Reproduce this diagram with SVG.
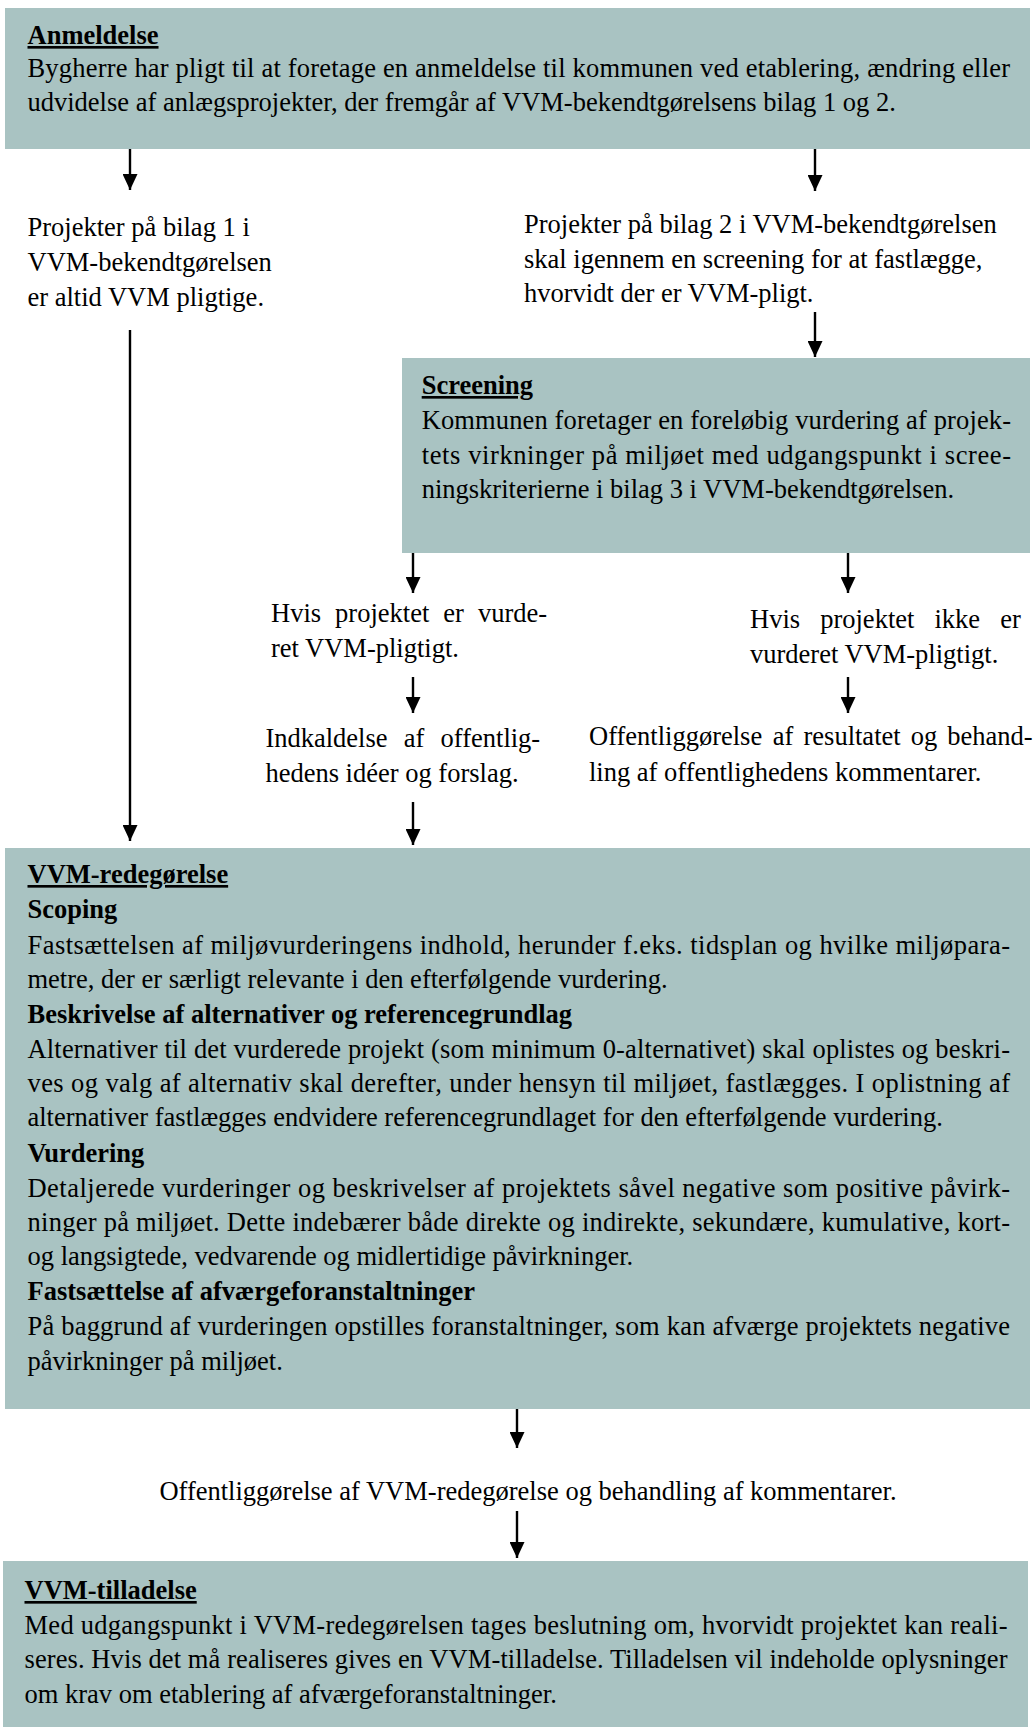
<svg xmlns="http://www.w3.org/2000/svg" width="1035" height="1727" viewBox="0 0 1035 1727">
  <defs>
    <marker id="ah" viewBox="0 0 16 15" refX="16" refY="7.5" markerWidth="16" markerHeight="15" markerUnits="userSpaceOnUse" orient="auto">
      <path d="M0,0 L16,7.5 L0,15 z" fill="#000"/>
    </marker>
    <style>
      .box { fill: #a9c3c2; }
      text { font-family: "Liberation Serif", "Times New Roman", serif; font-size: 26.5px; fill: #000; }
      .h { font-weight: bold; text-decoration: underline; text-decoration-thickness: 2.5px; }
      .b { font-weight: bold; }
      .c { text-anchor: middle; }
      .arr { stroke: #000; stroke-width: 2.4; fill: none; marker-end: url(#ah); }
    </style>
  </defs>
  <rect width="1035" height="1727" fill="#fff"/>

  <!-- Anmeldelse -->
  <g id="anmeldelse">
    <rect class="box" x="5" y="8" width="1025" height="141"/>
    <text class="h" x="27.5" y="44">Anmeldelse</text>
    <text x="27.5" y="77" textLength="982.5" lengthAdjust="spacing">Bygherre har pligt til at foretage en anmeldelse til kommunen ved etablering, ændring eller</text>
    <text x="27.5" y="111">udvidelse af anlægsprojekter, der fremgår af VVM-bekendtgørelsens bilag 1 og 2.</text>
  </g>

  <!-- Bilag 1 projects -->
  <g id="bilag1">
    <text x="27.5" y="236">Projekter på bilag 1 i</text>
    <text x="27.5" y="271">VVM-bekendtgørelsen</text>
    <text x="27.5" y="306">er altid VVM pligtige.</text>
  </g>

  <!-- Bilag 2 projects -->
  <g id="bilag2">
    <text x="524" y="233">Projekter på bilag 2 i VVM-bekendtgørelsen</text>
    <text x="524" y="268">skal igennem en screening for at fastlægge,</text>
    <text x="524" y="302">hvorvidt der er VVM-pligt.</text>
  </g>

  <!-- Screening -->
  <g id="screening">
    <rect class="box" x="402" y="358" width="628" height="195"/>
    <text class="h" x="421.7" y="394">Screening</text>
    <text x="421.7" y="429" textLength="589.3" lengthAdjust="spacing">Kommunen foretager en foreløbig vurdering af projek-</text>
    <text x="421.7" y="463.5" textLength="589.3" lengthAdjust="spacing">tets virkninger på miljøet med udgangspunkt i scree-</text>
    <text x="421.7" y="498">ningskriterierne i bilag 3 i VVM-bekendtgørelsen.</text>
  </g>

  <!-- Screening outcome: VVM duty -->
  <g id="pligtig">
    <text y="622"><tspan x="271">Hvis</tspan><tspan x="335.1">projektet</tspan><tspan x="443.3">er</tspan><tspan x="477.9">vurde-</tspan></text>
    <text x="271" y="657">ret VVM-pligtigt.</text>
  </g>

  <!-- Screening outcome: no VVM duty -->
  <g id="ikke-pligtig">
    <text y="628"><tspan x="750">Hvis</tspan><tspan x="820.2">projektet</tspan><tspan x="934.5">ikke</tspan><tspan x="1000.2">er</tspan></text>
    <text x="750" y="663">vurderet VVM-pligtigt.</text>
  </g>

  <!-- Public call for ideas -->
  <g id="indkaldelse">
    <text y="747"><tspan x="265.4">Indkaldelse</tspan><tspan x="403.8">af</tspan><tspan x="440.6">offentlig-</tspan></text>
    <text x="265.4" y="782">hedens idéer og forslag.</text>
  </g>

  <!-- Publication of screening result -->
  <g id="offentliggoerelse-resultat">
    <text y="745"><tspan x="589">Offentliggørelse</tspan><tspan x="772.8">af</tspan><tspan x="803.5">resultatet</tspan><tspan x="910.7">og</tspan><tspan x="947.3">behand-</tspan></text>
    <text x="589" y="781">ling af offentlighedens kommentarer.</text>
  </g>

  <!-- VVM-redegørelse -->
  <g id="redegoerelse">
    <rect class="box" x="5" y="848" width="1025" height="561"/>
    <text class="h" x="27.5" y="883">VVM-redegørelse</text>
    <text class="b" x="27.5" y="918">Scoping</text>
    <text x="27.5" y="954" textLength="982.5" lengthAdjust="spacing">Fastsættelsen af miljøvurderingens indhold, herunder f.eks. tidsplan og hvilke miljøpara-</text>
    <text x="27.5" y="988">metre, der er særligt relevante i den efterfølgende vurdering.</text>
    <text class="b" x="27.5" y="1023">Beskrivelse af alternativer og referencegrundlag</text>
    <text x="27.5" y="1058" textLength="982.5" lengthAdjust="spacing">Alternativer til det vurderede projekt (som minimum 0-alternativet) skal oplistes og beskri-</text>
    <text x="27.5" y="1092" textLength="982.5" lengthAdjust="spacing">ves og valg af alternativ skal derefter, under hensyn til miljøet, fastlægges. I oplistning af</text>
    <text x="27.5" y="1126">alternativer fastlægges endvidere referencegrundlaget for den efterfølgende vurdering.</text>
    <text class="b" x="27.5" y="1162">Vurdering</text>
    <text x="27.5" y="1197" textLength="982.5" lengthAdjust="spacing">Detaljerede vurderinger og beskrivelser af projektets såvel negative som positive påvirk-</text>
    <text x="27.5" y="1231" textLength="982.5" lengthAdjust="spacing">ninger på miljøet. Dette indebærer både direkte og indirekte, sekundære, kumulative, kort-</text>
    <text x="27.5" y="1265">og langsigtede, vedvarende og midlertidige påvirkninger.</text>
    <text class="b" x="27.5" y="1300">Fastsættelse af afværgeforanstaltninger</text>
    <text x="27.5" y="1335" textLength="982.5" lengthAdjust="spacing">På baggrund af vurderingen opstilles foranstaltninger, som kan afværge projektets negative</text>
    <text x="27.5" y="1370">påvirkninger på miljøet.</text>
  </g>

  <!-- Publication of VVM-redegørelse -->
  <g id="offentliggoerelse-redegoerelse">
    <text class="c" x="528" y="1500">Offentliggørelse af VVM-redegørelse og behandling af kommentarer.</text>
  </g>

  <!-- VVM-tilladelse -->
  <g id="tilladelse">
    <rect class="box" x="3" y="1561" width="1025" height="166"/>
    <text class="h" x="24.5" y="1599">VVM-tilladelse</text>
    <text x="24.5" y="1634" textLength="983" lengthAdjust="spacing">Med udgangspunkt i VVM-redegørelsen tages beslutning om, hvorvidt projektet kan reali-</text>
    <text x="24.5" y="1668" textLength="983" lengthAdjust="spacing">seres. Hvis det må realiseres gives en VVM-tilladelse. Tilladelsen vil indeholde oplysninger</text>
    <text x="24.5" y="1703">om krav om etablering af afværgeforanstaltninger.</text>
  </g>

  <!-- Connectors -->
  <g id="connectors">
    <line class="arr" x1="130" y1="149" x2="130" y2="190"/>
    <line class="arr" x1="815" y1="149" x2="815" y2="191"/>
    <line class="arr" x1="815" y1="312" x2="815" y2="357"/>
    <line class="arr" x1="130" y1="330" x2="130" y2="841"/>
    <line class="arr" x1="413" y1="553" x2="413" y2="593"/>
    <line class="arr" x1="848" y1="553" x2="848" y2="593"/>
    <line class="arr" x1="413" y1="677" x2="413" y2="713"/>
    <line class="arr" x1="848" y1="677" x2="848" y2="713"/>
    <line class="arr" x1="413" y1="802" x2="413" y2="845"/>
    <line class="arr" x1="517" y1="1409" x2="517" y2="1448"/>
    <line class="arr" x1="517" y1="1511" x2="517" y2="1558"/>
  </g>
</svg>
